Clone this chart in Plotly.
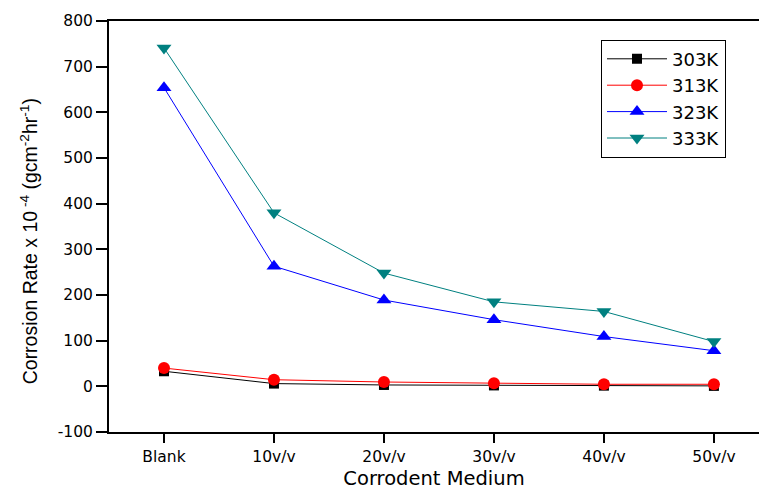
import plotly.graph_objects as go

categories = ["Blank", "10v/v", "20v/v", "30v/v", "40v/v", "50v/v"]
series_names = ["303K", "313K", "323K", "333K"]
r303 = [33, 6, 3, 2, 1.5, 1]
r313 = [40, 14.5, 9.5, 7, 4.5, 4.5]
r323 = [654, 263, 189, 146, 109, 78]
r333 = [741, 380, 248, 185, 164, 98]
y_ticks = [-100, 0, 100, 200, 300, 400, 500, 600, 700, 800]
y_title = "Corrosion Rate x 10<sup> -4</sup> (gcm<sup>-2</sup>hr<sup>-1</sup>)"
x_title = "Corrodent Medium"

styles = [
    dict(color="#000000", symbol="square", size=10),
    dict(color="#ff0000", symbol="circle", size=12),
    dict(color="#0000ff", symbol="triangle-up", size=13),
    dict(color="#008080", symbol="triangle-down", size=13),
]

fig = go.Figure()
for name, vals, st in zip(series_names, [r303, r313, r323, r333], styles):
    fig.add_trace(go.Scatter(
        x=list(range(len(categories))), y=vals, name=name, mode="lines+markers",
        line=dict(color=st["color"], width=1),
        marker=dict(color=st["color"], symbol=st["symbol"], size=st["size"], line=dict(width=0)),
    ))

font_family = "DejaVu Sans, Arial, sans-serif"
plot_w, plot_h = 650, 411
fig.update_layout(
    width=759, height=490,
    margin=dict(l=109, r=0, t=21, b=58),
    paper_bgcolor="white", plot_bgcolor="white",
    font=dict(family=font_family, color="black", size=15),
    showlegend=True,
    legend=dict(
        x=(601 - 109) / plot_w, y=(431.7 - 39.3) / plot_h, xanchor="left", yanchor="top",
        bordercolor="black", borderwidth=1, bgcolor="white",
        font=dict(size=18, family=font_family), tracegroupgap=0,
        itemwidth=60,
    ),
    xaxis=dict(
        range=[-0.5, 5.41],
        tickmode="array", tickvals=list(range(len(categories))), ticktext=categories,
        showline=True, linecolor="black", linewidth=2, mirror=True,
        ticks="outside", ticklen=9, tickwidth=2, tickcolor="black",
        showgrid=False, zeroline=False,
        tickfont=dict(size=15.5),
        title=dict(text=x_title, font=dict(size=19.5), standoff=9),
    ),
    yaxis=dict(
        range=[-100, 800], tickmode="array", tickvals=y_ticks,
        ticktext=[str(v) for v in y_ticks],
        showline=True, linecolor="black", linewidth=2, mirror=False,
        ticks="outside", ticklen=11, tickwidth=2, tickcolor="black",
        showgrid=False, zeroline=False,
        tickfont=dict(size=15.5),
    ),
    annotations=[dict(
        text=y_title, textangle=-90, showarrow=False,
        xref="paper", yref="paper",
        x=(29 - 109) / plot_w, y=(431.7 - 241) / plot_h,
        xanchor="center", yanchor="middle",
        font=dict(family="Liberation Sans, Arial, sans-serif", size=19.5),
    )],
)

fig.write_html("out.html")
